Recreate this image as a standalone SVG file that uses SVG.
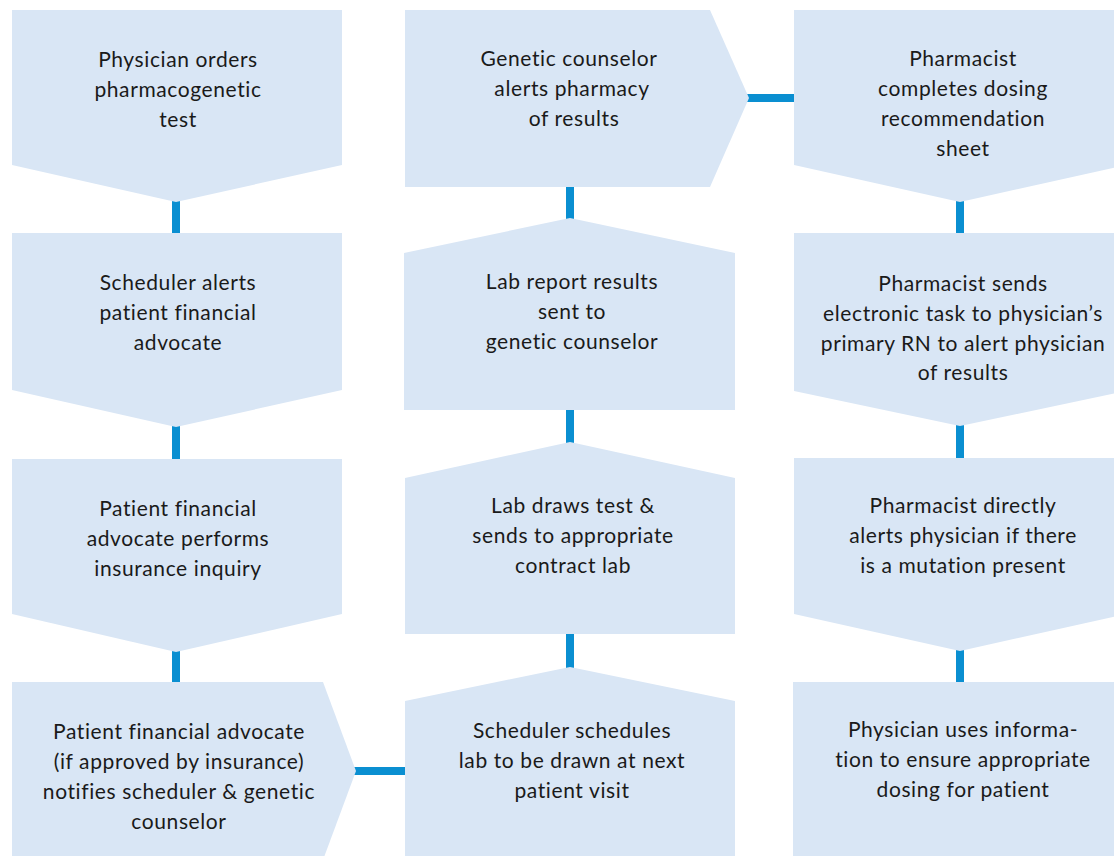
<svg xmlns="http://www.w3.org/2000/svg" width="1114" height="856" viewBox="0 0 1114 856">
<style>
.box{fill:#d9e6f5;stroke:none}
.lbl{font-family:Lato,"Open Sans","Liberation Sans",sans-serif;font-size:21px;letter-spacing:0.6px;fill:#1a1a1a;text-anchor:middle}
.con{stroke:#0a8fd1;stroke-width:8;fill:none}
</style>
<rect width="1114" height="856" fill="#ffffff"/>
<g id="connectors">
<line class="con" x1="176" y1="200" x2="176" y2="235"/>
<line class="con" x1="176" y1="425" x2="176" y2="461"/>
<line class="con" x1="176" y1="650" x2="176" y2="684"/>
<line class="con" x1="354" y1="771" x2="407" y2="771"/>
<line class="con" x1="570" y1="185" x2="570" y2="220"/>
<line class="con" x1="570" y1="408" x2="570" y2="444"/>
<line class="con" x1="570" y1="632" x2="570" y2="669"/>
<line class="con" x1="747" y1="98" x2="796" y2="98"/>
<line class="con" x1="960" y1="200" x2="960" y2="235"/>
<line class="con" x1="960" y1="424" x2="960" y2="460"/>
<line class="con" x1="960" y1="649" x2="960" y2="684"/>
</g>
<g id="n1">
<polygon class="box" points="12,10 342,10 342,165 176,202 12,165"/>
<text class="lbl" x="178" y="67">Physician orders</text>
<text class="lbl" x="178" y="97">pharmacogenetic</text>
<text class="lbl" x="178" y="127">test</text>
</g>
<g id="n2">
<polygon class="box" points="12,233 342,233 342,390 176,427 12,390"/>
<text class="lbl" x="178" y="290">Scheduler alerts</text>
<text class="lbl" x="178" y="320">patient financial</text>
<text class="lbl" x="178" y="350">advocate</text>
</g>
<g id="n3">
<polygon class="box" points="12,459 342,459 342,614 176,652 12,614"/>
<text class="lbl" x="178" y="516">Patient financial</text>
<text class="lbl" x="178" y="546">advocate performs</text>
<text class="lbl" x="178" y="576">insurance inquiry</text>
</g>
<g id="n4">
<polygon class="box" points="12,682 323,682 356,771 323,860 12,860"/>
<text class="lbl" x="179" y="739">Patient financial advocate</text>
<text class="lbl" x="179" y="769">(if approved by insurance)</text>
<text class="lbl" x="179" y="799">notifies scheduler &amp; genetic</text>
<text class="lbl" x="179" y="829">counselor</text>
</g>
<g id="n5">
<polygon class="box" points="405,701 570,667 735,701 735,860 405,860"/>
<text class="lbl" x="572" y="738">Scheduler schedules</text>
<text class="lbl" x="572" y="768">lab to be drawn at next</text>
<text class="lbl" x="572" y="798">patient visit</text>
</g>
<g id="n6">
<polygon class="box" points="405,478 570,442 735,478 735,634 405,634"/>
<text class="lbl" x="573" y="513">Lab draws test &amp;</text>
<text class="lbl" x="573" y="543">sends to appropriate</text>
<text class="lbl" x="573" y="573">contract lab</text>
</g>
<g id="n7">
<polygon class="box" points="404,253 570,218 735,253 735,410 404,410"/>
<text class="lbl" x="572" y="289">Lab report results</text>
<text class="lbl" x="572" y="319">sent to</text>
<text class="lbl" x="572" y="349">genetic counselor</text>
</g>
<g id="n8">
<polygon class="box" points="405,10 710,10 749,98 710,187 405,187"/>
<text class="lbl" x="569" y="66">Genetic counselor</text>
<text class="lbl" x="572" y="96">alerts pharmacy</text>
<text class="lbl" x="574" y="126">of results</text>
</g>
<g id="n9">
<polygon class="box" points="794,10 1126,10 1126,165 960,202 794,165"/>
<text class="lbl" x="963" y="66">Pharmacist</text>
<text class="lbl" x="963" y="96">completes dosing</text>
<text class="lbl" x="963" y="126">recommendation</text>
<text class="lbl" x="963" y="156">sheet</text>
</g>
<g id="n10">
<polygon class="box" points="794,233 1126,233 1126,391 960,426 794,391"/>
<text class="lbl" x="963" y="291">Pharmacist sends</text>
<text class="lbl" x="963" y="321">electronic task to physician’s</text>
<text class="lbl" x="963" y="351">primary RN to alert physician</text>
<text class="lbl" x="963" y="380">of results</text>
</g>
<g id="n11">
<polygon class="box" points="794,458 1126,458 1126,614 960,651 794,614"/>
<text class="lbl" x="963" y="513">Pharmacist directly</text>
<text class="lbl" x="963" y="543">alerts physician if there</text>
<text class="lbl" x="963" y="573">is a mutation present</text>
</g>
<g id="n12">
<polygon class="box" points="793,682 1126,682 1126,860 793,860"/>
<text class="lbl" x="963" y="737">Physician uses informa-</text>
<text class="lbl" x="963" y="767">tion to ensure appropriate</text>
<text class="lbl" x="963" y="797">dosing for patient</text>
</g>
</svg>
